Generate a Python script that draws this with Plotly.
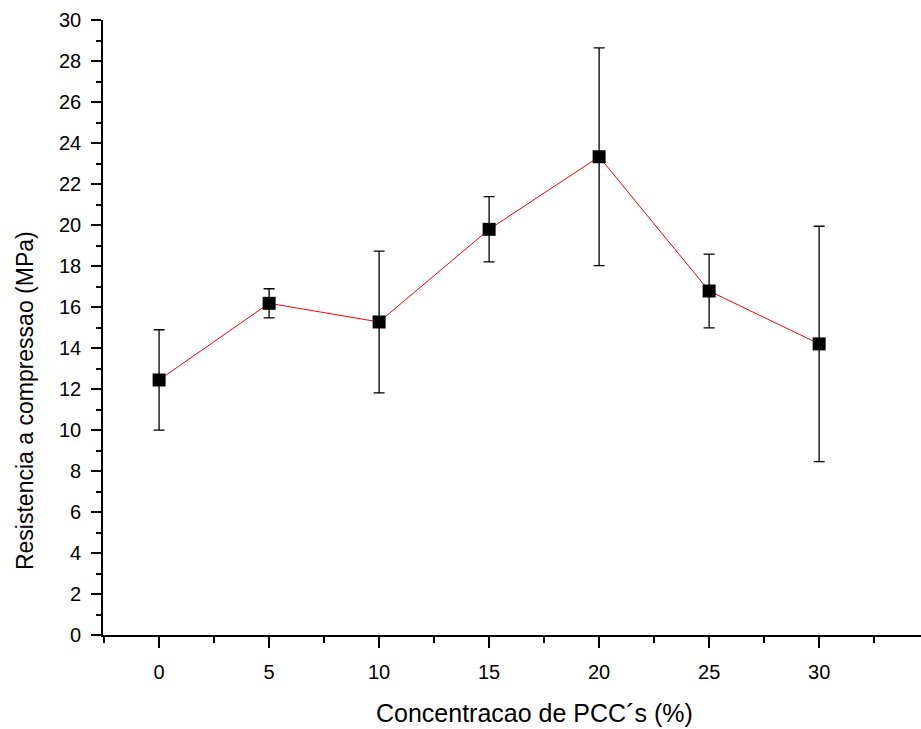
import plotly.graph_objects as go

concentration = [0, 5, 10, 15, 20, 25, 30]
strength = [12.44, 16.18, 15.27, 19.79, 23.33, 16.78, 14.20]
strength_err = [2.45, 0.71, 3.46, 1.59, 5.31, 1.80, 5.74]

x_ticks = [0, 5, 10, 15, 20, 25, 30]
y_ticks = list(range(0, 31, 2))

x_title = "Concentracao de PCC´s (%)"
y_title = "Resistencia a compressao (MPa)"

FONT = "Liberation Sans, Arial, sans-serif"

fig = go.Figure()
fig.add_trace(go.Scatter(
    x=concentration, y=strength,
    mode="lines+markers",
    line=dict(color="#ff0000", width=1),
    marker=dict(symbol="square", size=13, color="black"),
    error_y=dict(type="data", array=strength_err, visible=True,
                 color="black", thickness=1.3, width=5.5),
    showlegend=False,
))

fig.update_layout(
    width=921, height=729,
    margin=dict(l=103, r=0, t=20, b=94),
    paper_bgcolor="white", plot_bgcolor="white",
    font=dict(family=FONT, color="black", size=20),
    xaxis=dict(
        range=[-2.55, 34.63],
        tickvals=x_ticks, ticktext=[str(v) for v in x_ticks],
        showline=True, linecolor="black", linewidth=1.6,
        ticks="outside", ticklen=11, tickwidth=1.6, tickcolor="black",
        minor=dict(dtick=2.5, tick0=0, ticks="outside", ticklen=6, tickwidth=1.6, tickcolor="black"),
        showgrid=False, zeroline=False,
        tickfont=dict(size=20, family=FONT),
        ticklabelstandoff=7,
    ),
    yaxis=dict(
        range=[0, 30],
        tickvals=y_ticks, ticktext=[str(v) for v in y_ticks],
        showline=True, linecolor="black", linewidth=1.6,
        ticks="outside", ticklen=10, tickwidth=1.6, tickcolor="black",
        minor=dict(dtick=1, tick0=0, ticks="outside", ticklen=5, tickwidth=1.6, tickcolor="black"),
        showgrid=False, zeroline=False,
        tickfont=dict(size=20, family=FONT),
        ticklabelstandoff=6,
    ),
    annotations=[
        dict(text=x_title, xref="paper", yref="paper", x=0.528, y=-0.127,
             xanchor="center", yanchor="middle", showarrow=False,
             font=dict(size=25, family=FONT, color="black")),
        dict(text=y_title, xref="paper", yref="paper", x=-0.0954, y=0.382,
             xanchor="center", yanchor="middle", showarrow=False, textangle=-90,
             font=dict(size=23, family=FONT, color="black")),
    ],
)

fig.write_html("out.html")
